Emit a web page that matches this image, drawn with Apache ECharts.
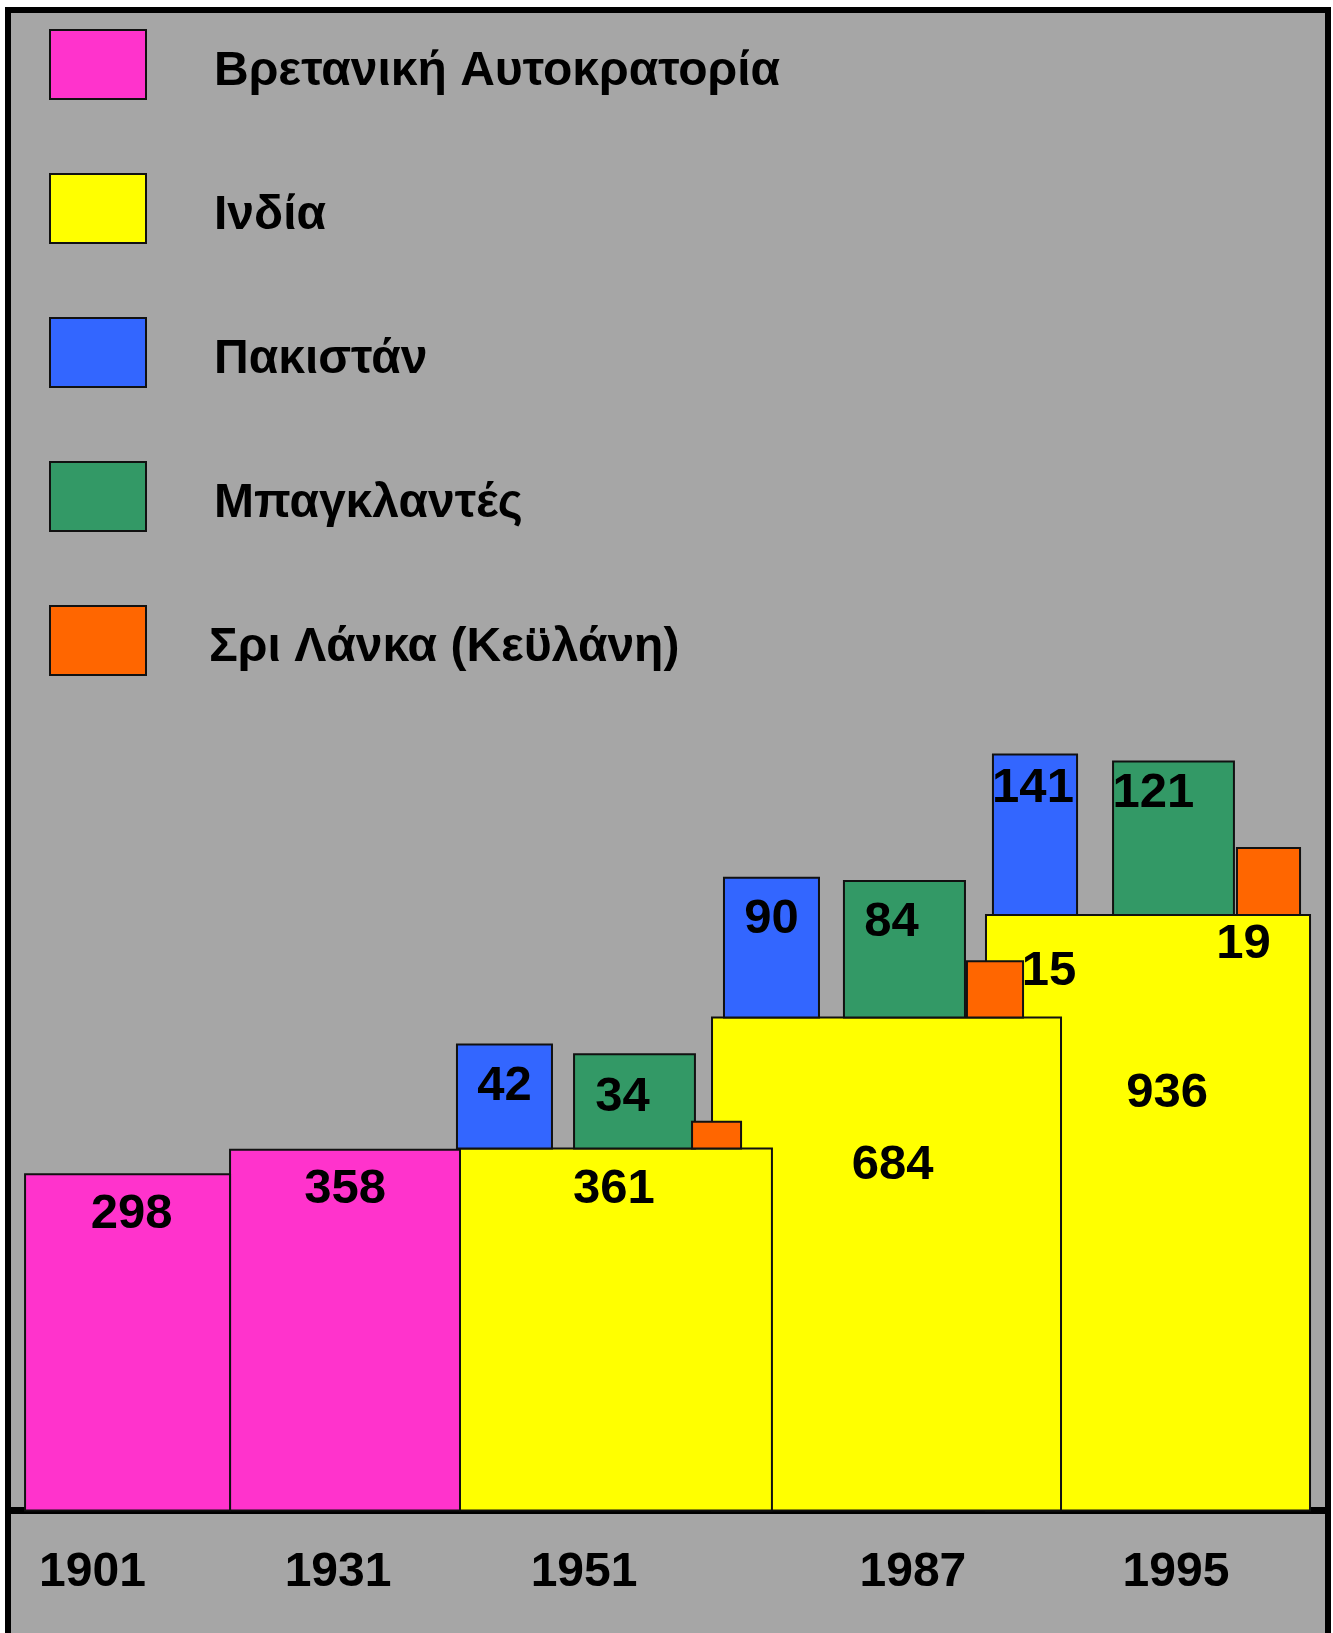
<!DOCTYPE html>
<html>
<head>
<meta charset="utf-8">
<script src="https://cdn.jsdelivr.net/npm/echarts@6/dist/echarts.min.js"></script>
<style>
  html, body { margin: 0; padding: 0; background: #ffffff; }
  #chart { width: 1333px; height: 1633px; }
</style>
</head>
<body>
<div id="chart"></div>
<script>
// Population (millions) of the Indian subcontinent by census year
const years = ['1901', '1931', '1951', '1987', '1995'];
const britishEmpire = [298, 358, null, null, null];
const india = [null, null, 361, 684, 936];
const pakistan = [null, null, 42, 90, 141];
const bangladesh = [null, null, 34, 84, 121];
const sriLanka = [null, null, 8, 15, 19];

const names = {
  britishEmpire: 'Βρετανική Αυτοκρατορία',
  india: 'Ινδία',
  pakistan: 'Πακιστάν',
  bangladesh: 'Μπαγκλαντές',
  sriLanka: 'Σρι Λάνκα (Κεϋλάνη)'
};

// ---- layout (horizontal scale runs 0..1000 across the plot) ----
const spans = {
  britishEmpire: [[10.7, 166.7], [166.7, 341.7], null, null, null],
  india:         [null, null, [341.7, 579.1], [533.5, 799.1], [742.0, 988.6]],
  pakistan:      [null, null, [339.4, 411.7], [542.6, 614.9], [747.3, 811.3]],
  bangladesh:    [null, null, [428.5, 520.5], [633.9, 726.0], [838.7, 930.7]],
  sriLanka:      [null, null, [518.3, 555.6], [727.5, 770.2], [933.0, 981.0]]
};
// where each number sits, in px from the top-centre of its box (null = no number)
const labelOffsets = {
  britishEmpire: [[4, 40], [0, 40], null, null, null],
  india:         [null, null, [-2, 41], [6, 148], [19, 178]],
  pakistan:      [null, null, [0, 42], [0, 42], [-2, 34]],
  bangladesh:    [null, null, [-12, 43], [-13, 42], [-20, 32]],
  sriLanka:      [null, null, null, [54, 10], [-25, 97]]
};
const yearTickPos = [62.0, 248.9, 436.1, 686.4, 886.6];

const colors = {
  britishEmpire: '#ff33cc',
  india: '#ffff00',
  pakistan: '#3366ff',
  bangladesh: '#339966',
  sriLanka: '#ff6600'
};

const FONT = '"Liberation Sans", Arial, Helvetica, sans-serif';
const Y_MIN = -530, Y_MAX = 1500;          // linear scale for the large boxes
const LOG_MIN = 4.5, LOG_MAX = 2.14e8;      // log scale for the smaller states

const chart = echarts.init(document.getElementById('chart'), null, { renderer: 'canvas' });

function numberText(x, y, v) {
  return {
    type: 'text',
    x: x, y: y,
    z2: 100,
    style: {
      text: String(v),
      fill: '#000000',
      fontSize: 49,
      fontWeight: 'bold',
      fontFamily: FONT,
      align: 'center',
      verticalAlign: 'middle'
    }
  };
}

// Large boxes: standing on the baseline, height from the linear axis
function renderLarge(key) {
  return function (params, api) {
    const x0 = api.value(0), x1 = api.value(1), v = api.value(2), yi = api.value(3);
    const pTop = api.coord([x0, v]);
    const pBot = api.coord([x1, Y_MIN]);
    const rect = {
      type: 'rect',
      shape: { x: pTop[0], y: pTop[1], width: pBot[0] - pTop[0], height: pBot[1] - pTop[1] },
      style: { fill: colors[key], stroke: '#111111', lineWidth: 2 },
      z2: 10 - yi
    };
    const children = [rect];
    const off = labelOffsets[key][yi];
    if (off) children.push(numberText((pTop[0] + pBot[0]) / 2 + off[0], pTop[1] + off[1], v));
    return { type: 'group', children: children };
  };
}

// Smaller states: sitting on top of India's box of the same year
function renderSmall(key) {
  return function (params, api) {
    const x0 = api.value(0), x1 = api.value(1), v = api.value(2), yi = api.value(3), base = api.value(4);
    const pZero = api.coord([x0, LOG_MIN]);
    const pVal = api.coord([x1, v]);
    const h = pZero[1] - pVal[1];
    let baseY = chart.convertToPixel({ yAxisIndex: 0 }, base);
    if (baseY == null || isNaN(baseY)) return null;
    const top = baseY - h;
    const children = [{
      type: 'rect',
      shape: { x: pZero[0], y: top, width: pVal[0] - pZero[0], height: h },
      style: { fill: colors[key], stroke: '#111111', lineWidth: 2 },
      z2: 20
    }];
    const off = labelOffsets[key][yi];
    if (off) children.push(numberText((pZero[0] + pVal[0]) / 2 + off[0], top + off[1], v));
    return { type: 'group', children: children };
  };
}

function largeData(key, values) {
  const out = [];
  values.forEach(function (v, i) {
    if (v != null) out.push([spans[key][i][0], spans[key][i][1], v, i]);
  });
  return out;
}
function smallData(key, values) {
  const out = [];
  values.forEach(function (v, i) {
    if (v != null) out.push([spans[key][i][0], spans[key][i][1], v, i, india[i]]);
  });
  return out;
}

function largeSeries(key, values) {
  return {
    type: 'custom',
    name: names[key],
    xAxisIndex: 0, yAxisIndex: 0,
    itemStyle: { color: colors[key] },
    encode: { x: [0, 1], y: 2 },
    renderItem: renderLarge(key),
    data: largeData(key, values),
    silent: true
  };
}
function smallSeries(key, values) {
  return {
    type: 'custom',
    name: names[key],
    xAxisIndex: 0, yAxisIndex: 1,
    itemStyle: { color: colors[key] },
    encode: { x: [0, 1], y: 2 },
    renderItem: renderSmall(key),
    data: smallData(key, values),
    silent: true
  };
}

const legendRich = {
  s: { fontSize: 1, lineHeight: 14 },
  n: { fontSize: 48, fontWeight: 'bold', fontFamily: FONT, color: '#000000', lineHeight: 56 }
};

const option = {
  animation: false,
  backgroundColor: 'transparent',
  graphic: [{
    type: 'rect',
    z: -10,
    shape: { x: 8, y: 10, width: 1320, height: 1700 },
    style: { fill: '#a6a6a6', stroke: '#000000', lineWidth: 6 }
  }],
  legend: {
    orient: 'vertical',
    left: 49,
    top: 29,
    padding: 0,
    itemWidth: 96,
    itemHeight: 69,
    itemGap: 73,
    icon: 'rect',
    selectedMode: false,
    itemStyle: { borderColor: '#111111', borderWidth: 2 },
    formatter: function (name) { return '{s| }\n{n|' + name + '}'; },
    textStyle: {
      fontSize: 48, fontWeight: 'bold', fontFamily: FONT, color: '#000000',
      padding: [0, 0, 0, 63],
      rich: legendRich
    },
    data: [
      { name: names.britishEmpire },
      { name: names.india },
      { name: names.pakistan },
      { name: names.bangladesh },
      { name: names.sriLanka, textStyle: { padding: [0, 0, 0, 58], rich: legendRich } }
    ]
  },
  grid: { left: 11, right: 8, top: 686, bottom: 122.5, containLabel: false },
  xAxis: {
    type: 'value',
    min: 0,
    max: 1000,
    axisLine: { show: true, onZero: false, lineStyle: { color: '#000000', width: 7 } },
    axisTick: { show: false },
    splitLine: { show: false },
    axisLabel: {
      customValues: yearTickPos,
      margin: 38,
      fontSize: 48,
      fontWeight: 'bold',
      fontFamily: FONT,
      color: '#000000',
      formatter: function (val) {
        let best = 0;
        yearTickPos.forEach(function (p, i) {
          if (Math.abs(p - val) < Math.abs(yearTickPos[best] - val)) best = i;
        });
        return years[best];
      }
    }
  },
  yAxis: [
    { type: 'value', min: Y_MIN, max: Y_MAX, show: false, splitLine: { show: false } },
    { type: 'log', logBase: 10, min: LOG_MIN, max: LOG_MAX, show: false, splitLine: { show: false } }
  ],
  series: [
    largeSeries('britishEmpire', britishEmpire),
    largeSeries('india', india),
    smallSeries('pakistan', pakistan),
    smallSeries('bangladesh', bangladesh),
    smallSeries('sriLanka', sriLanka)
  ]
};

chart.setOption(option);
// second pass so the small boxes can read the settled linear axis
chart.setOption({ series: option.series });
</script>
</body>
</html>
